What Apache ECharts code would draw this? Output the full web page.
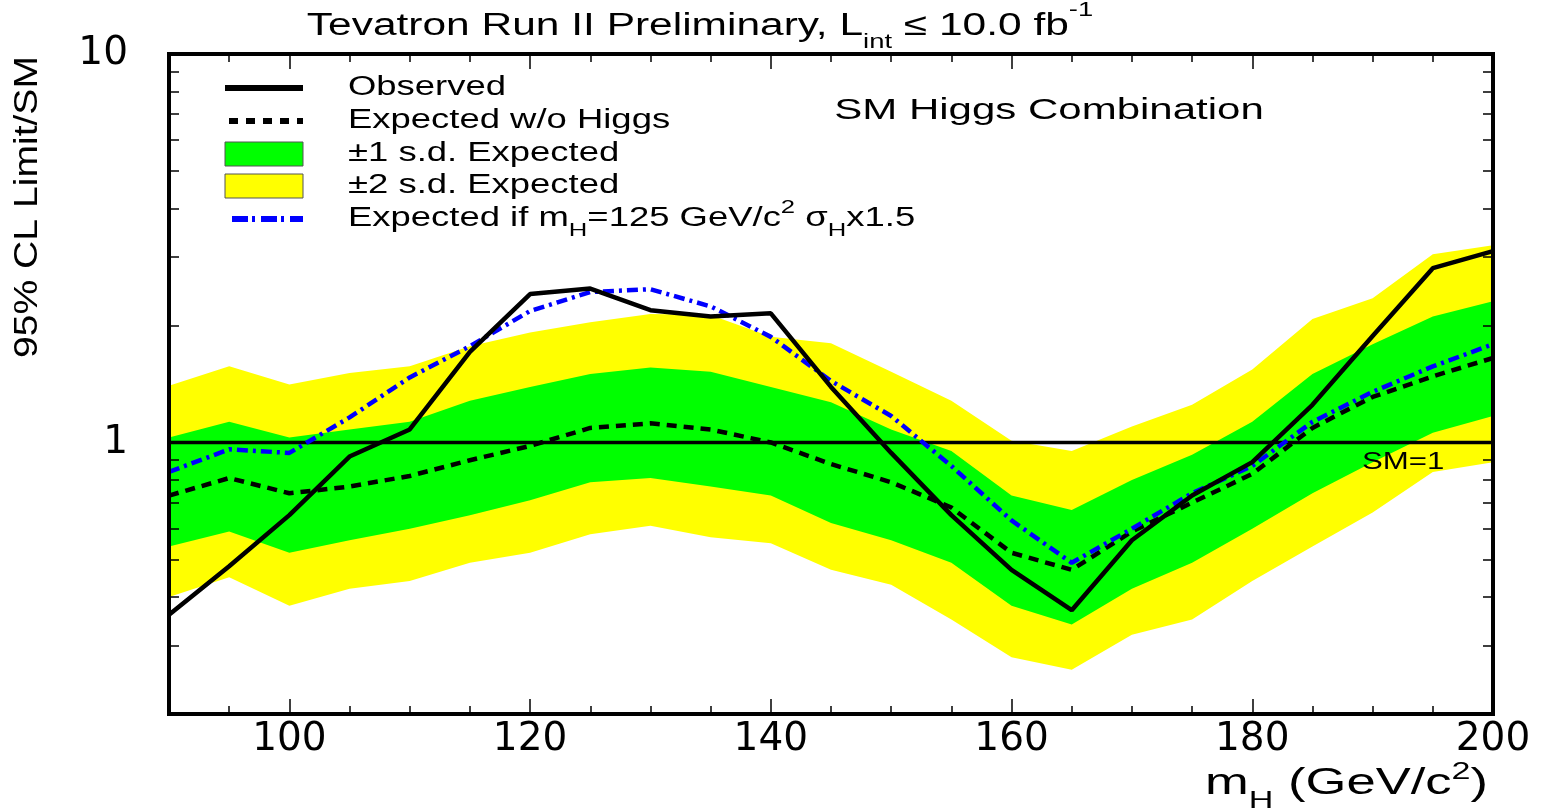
<!DOCTYPE html>
<html>
<head>
<meta charset="utf-8">
<title>SM Higgs Combination</title>
<script src="https://cdn.jsdelivr.net/npm/echarts@6/dist/echarts.min.js"></script>
<style>
  html, body { margin: 0; padding: 0; background: #ffffff; }
  #chart { width: 1542px; height: 811px; }
</style>
</head>
<body>
<div id="chart"></div>
<script>
// Higgs mass points (GeV/c^2)
const massPoints = [90, 95, 100, 105, 110, 115, 120, 125, 130, 135, 140, 145,
                    150, 155, 160, 165, 170, 175, 180, 185, 190, 195, 200];
// 95% CL limit / SM, observed
const observed = [0.36, 0.48, 0.65, 0.92, 1.08, 1.71, 2.41, 2.49, 2.19, 2.11, 2.15, 1.39,
                  0.94, 0.65, 0.47, 0.37, 0.56, 0.73, 0.89, 1.25, 1.88, 2.81, 3.11];
// median expected, background only
const expected = [0.73, 0.81, 0.74, 0.77, 0.82, 0.90, 0.98, 1.09, 1.12, 1.08, 1.00, 0.88,
                  0.79, 0.68, 0.52, 0.47, 0.59, 0.70, 0.83, 1.09, 1.31, 1.48, 1.65];
// expected with a 125 GeV/c^2 Higgs, sigma x 1.5
const expected125 = [0.84, 0.96, 0.94, 1.16, 1.47, 1.77, 2.18, 2.44, 2.48, 2.24, 1.87, 1.44,
                     1.17, 0.87, 0.63, 0.49, 0.60, 0.74, 0.87, 1.13, 1.35, 1.57, 1.79];
// +-1 s.d. band
const band1Lo = [0.54, 0.59, 0.52, 0.56, 0.60, 0.65, 0.71, 0.79, 0.81, 0.77, 0.73, 0.62,
                 0.56, 0.49, 0.38, 0.34, 0.42, 0.49, 0.60, 0.74, 0.89, 1.06, 1.17];
const band1Hi = [1.03, 1.13, 1.03, 1.08, 1.13, 1.28, 1.39, 1.50, 1.56, 1.52, 1.39, 1.27,
                 1.08, 0.95, 0.73, 0.67, 0.80, 0.93, 1.13, 1.50, 1.79, 2.11, 2.31];
// +-2 s.d. band
const band2Lo = [0.40, 0.45, 0.38, 0.42, 0.44, 0.49, 0.52, 0.58, 0.61, 0.57, 0.55, 0.47,
                 0.43, 0.35, 0.28, 0.26, 0.32, 0.35, 0.44, 0.54, 0.66, 0.84, 0.89];
const band2Hi = [1.40, 1.57, 1.41, 1.51, 1.57, 1.77, 1.92, 2.04, 2.14, 2.13, 1.87, 1.80,
                 1.52, 1.28, 1.01, 0.95, 1.10, 1.25, 1.54, 2.08, 2.35, 3.05, 3.22];
// SM reference
const smReference = 1;

// axis ranges and ticks
const xRange = [90, 200];
const yRange = [0.2, 10];
const xMajorTicks = [100, 120, 140, 160, 180, 200];
const xMinorTicks = [95, 105, 110, 115, 125, 130, 135, 145, 150, 155, 165, 170, 175, 185, 190, 195];
const yMajorTicks = [1, 10];
const yMinorTicks = [0.3, 0.4, 0.5, 0.6, 0.7, 0.8, 0.9, 2, 3, 4, 5, 6, 7, 8, 9];

const FONT = 'Liberation Sans';
const lg = v => Math.log10(v);
const toPoints = arr => massPoints.map((m, i) => [m, lg(arr[i])]);

function xAxisDef(position, ticks, len, withLine, withLabels) {
  return {
    type: 'value', gridIndex: 0, position: position, min: xRange[0], max: xRange[1], z: 10,
    splitLine: { show: false },
    axisLine: { show: withLine, onZero: false, lineStyle: { color: '#000', width: 4, cap: 'square' } },
    axisTick: { show: true, inside: true, length: len, customValues: ticks,
                lineStyle: { color: '#000', width: 1.5 } },
    axisLabel: withLabels
      ? { show: true, customValues: ticks, fontFamily: 'DejaVu Sans', fontSize: 39, color: '#000', margin: 6 }
      : { show: false }
  };
}
function yAxisDef(position, ticks, len, withLine, withLabels) {
  const logTicks = ticks.map(lg);
  return {
    type: 'value', gridIndex: 0, position: position, min: lg(yRange[0]), max: lg(yRange[1]), z: 10,
    splitLine: { show: false },
    axisLine: { show: withLine, onZero: false, lineStyle: { color: '#000', width: 4, cap: 'square' } },
    axisTick: { show: true, inside: true, length: len, customValues: logTicks,
                lineStyle: { color: '#000', width: 1.5 } },
    axisLabel: withLabels
      ? { show: true, customValues: logTicks, fontFamily: 'DejaVu Sans', fontSize: 39, color: '#000', margin: 41,
          formatter: v => String(Math.round(Math.pow(10, v))) }
      : { show: false }
  };
}

function bandSeries(name, lo, hi, color) {
  return {
    type: 'custom', name: name, xAxisIndex: 0, yAxisIndex: 0, silent: true, clip: true, z: 1,
    data: massPoints.map((m, i) => [m, lg(lo[i]), lg(hi[i])]),
    encode: { x: 0, y: [1, 2] },
    renderItem: function (params, api) {
      if (params.dataIndex !== 0) return null;
      const upper = massPoints.map((m, i) => api.coord([m, lg(hi[i])]));
      const lower = massPoints.map((m, i) => api.coord([m, lg(lo[i])])).reverse();
      return { type: 'polygon', shape: { points: upper.concat(lower) }, style: { fill: color } };
    }
  };
}

function lineSeries(name, arr, color, width, dash, z) {
  return {
    type: 'line', name: name, xAxisIndex: 0, yAxisIndex: 0, data: toPoints(arr),
    symbol: 'none', silent: true, z: z,
    lineStyle: { color: color, width: width, type: dash, cap: 'butt' }
  };
}

// rich text pieces for sub- and superscripts
function richStyles(size, subSize, subDrop, supRise) {
  const base = { fontFamily: FONT, fill: '#000' };
  return {
    sub: Object.assign({ fontSize: subSize, lineHeight: subSize, padding: [subDrop * 2, 0, 0, 0] }, base),
    sup: Object.assign({ fontSize: subSize, lineHeight: subSize, padding: [0, 0, supRise * 2, 0] }, base)
  };
}
function label(x, y, text, size, scaleX, align, extra) {
  const el = {
    type: 'text', x: x, y: y, scaleX: scaleX, z: 100, silent: true,
    style: Object.assign({
      text: text, fontFamily: FONT, fontSize: size, fill: '#000',
      textAlign: align, textVerticalAlign: 'middle'
    }, extra && extra.style ? extra.style : {})
  };
  if (extra && extra.rotation) el.rotation = extra.rotation;
  return el;
}

// legend
const legendX0 = 225, legendX1 = 303, legendTextX = 348;
const legendRows = [88, 121, 154, 186, 219];
const legendFont = 27, legendScale = 1.35;
const legendGraphics = [
  { type: 'line', z: 100, silent: true, shape: { x1: legendX0, y1: legendRows[0], x2: legendX1, y2: legendRows[0] },
    style: { stroke: '#000', lineWidth: 6 } },
  { type: 'line', z: 100, silent: true, shape: { x1: legendX0 + 4, y1: legendRows[1], x2: legendX1, y2: legendRows[1] },
    style: { stroke: '#000', lineWidth: 6, lineDash: [9, 8] } },
  { type: 'rect', z: 100, silent: true, shape: { x: legendX0, y: legendRows[2] - 12, width: 78, height: 24 },
    style: { fill: '#00ff00', stroke: '#555', lineWidth: 1 } },
  { type: 'rect', z: 100, silent: true, shape: { x: legendX0, y: legendRows[3] - 12, width: 78, height: 24 },
    style: { fill: '#ffff00', stroke: '#555', lineWidth: 1 } },
  { type: 'line', z: 100, silent: true, shape: { x1: legendX0 + 7, y1: legendRows[4], x2: legendX1, y2: legendRows[4] },
    style: { stroke: '#0000ff', lineWidth: 6, lineDash: [16, 4, 3, 6] } },
  label(legendTextX, legendRows[0], 'Observed', legendFont, legendScale, 'left'),
  label(legendTextX, legendRows[1], 'Expected w/o Higgs', legendFont, legendScale, 'left'),
  label(legendTextX, legendRows[2], '±1 s.d. Expected', legendFont, legendScale, 'left'),
  label(legendTextX, legendRows[3], '±2 s.d. Expected', legendFont, legendScale, 'left'),
  label(legendTextX, legendRows[4], 'Expected if m{sub|H}=125 GeV/c{sup|2} σ{sub|H}x1.5', legendFont, legendScale, 'left',
        { style: { rich: richStyles(legendFont, 19, 12, 11) } })
];

const chart = echarts.init(document.getElementById('chart'), null, { renderer: 'canvas' });
chart.setOption({
  animation: false,
  backgroundColor: '#ffffff',
  grid: { left: 169, right: 49, top: 54, bottom: 97, containLabel: false },
  xAxis: [
    xAxisDef('bottom', xMajorTicks, 15, true, true),
    xAxisDef('bottom', xMinorTicks, 8, false, false),
    xAxisDef('top', xMajorTicks, 15, true, false),
    xAxisDef('top', xMinorTicks, 8, false, false)
  ],
  yAxis: [
    yAxisDef('left', yMajorTicks, 15, true, true),
    yAxisDef('left', yMinorTicks, 10, false, false),
    yAxisDef('right', yMajorTicks, 15, true, false),
    yAxisDef('right', yMinorTicks, 10, false, false)
  ],
  series: [
    bandSeries('±2 s.d. Expected', band2Lo, band2Hi, '#ffff00'),
    bandSeries('±1 s.d. Expected', band1Lo, band1Hi, '#00ff00'),
    {
      type: 'line', name: 'SM=1', xAxisIndex: 0, yAxisIndex: 0, symbol: 'none', silent: true, z: 3,
      data: [[xRange[0], lg(smReference)], [xRange[1], lg(smReference)]],
      lineStyle: { color: '#000', width: 3.5 }
    },
    lineSeries('Expected w/o Higgs', expected, '#000', 4.5, [10, 7], 4),
    lineSeries('Expected if mH=125', expected125, '#0000ff', 4.5, [11, 5, 3, 5], 5),
    lineSeries('Observed', observed, '#000', 4.5, 'solid', 6)
  ],
  graphic: [
    label(700, 26, 'Tevatron Run II Preliminary, L{sub|int} ≤ 10.0 fb{sup|-1}', 31, 1.37, 'center',
          { style: { rich: richStyles(31, 20, 16, 16) } }),
    label(28, 207, '95% CL Limit/SM', 34, 1.15, 'center', { rotation: Math.PI / 2 }),
    label(1488, 784, 'm{sub|H} (GeV/c{sup|2})', 37, 1.42, 'right',
          { style: { rich: richStyles(37, 24, 17, 12) } }),
    label(1049, 111, 'SM Higgs Combination', 30, 1.4, 'center'),
    label(1362, 462, 'SM=1', 24, 1.3, 'left')
  ].concat(legendGraphics)
});
</script>
</body>
</html>
